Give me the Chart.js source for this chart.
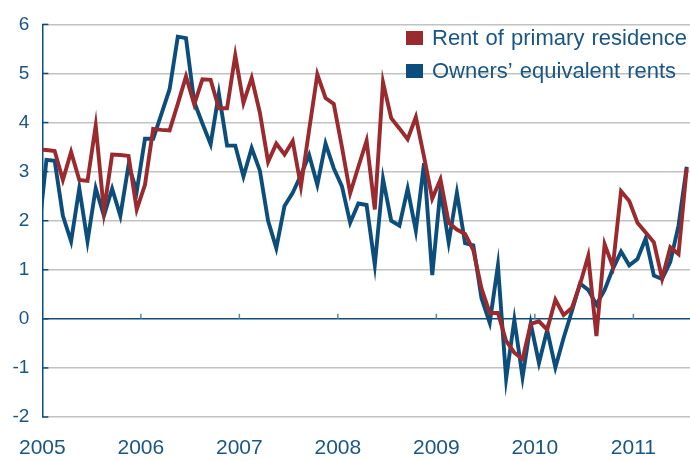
<!DOCTYPE html>
<html lang="en">
<head>
<meta charset="UTF-8">
<title>Rent inflation</title>
<style>
  html, body { margin: 0; padding: 0; background: #fff; }
  .chart-box { width: 690px; height: 461px; }
</style>
</head>
<body>
<div class="chart-box"><canvas id="rentChart"></canvas></div>

<script src="https://cdn.jsdelivr.net/npm/chart.js"></script>
<script>
  // monthly values, Dec 2004 .. Jul 2011 (the Dec 2004 point sits left of the axis and gets clipped)
  const firstMonth = 2004 + 11 / 12;
  const seriesNames = ['Rent of primary residence', 'Owners\u2019 equivalent rents'];

  const rentPrimary = [
    3.45,
    3.44, 3.42, 2.83, 3.40, 2.83, 2.81, 3.94, 2.20, 3.35, 3.34, 3.32, 2.23,
    2.73, 3.87, 3.85, 3.84, 4.38, 4.94, 4.37, 4.88, 4.87, 4.29, 4.29, 5.37,
    4.40, 4.91, 4.20, 3.20, 3.57, 3.35, 3.62, 2.70, 3.85, 4.98, 4.50, 4.38,
    3.50, 2.56, 3.10, 3.63, 2.23, 4.82, 4.09, 3.88, 3.66, 4.11, 3.30, 2.45,
    2.84, 1.96, 1.82, 1.73, 1.40, 0.62, 0.12, 0.12, -0.45, -0.69, -0.82, -0.10,
    -0.05, -0.22, 0.39, 0.08, 0.22, 0.70, 1.28, -0.35, 1.52, 1.07, 2.60, 2.40,
    1.96, 1.76, 1.56, 0.82, 1.46, 1.32, 3.07
  ];

  const ownersEquiv = [
    1.68,
    3.24, 3.22, 2.10, 1.58, 2.66, 1.58, 2.66, 2.10, 2.65, 2.10, 3.13, 2.60,
    3.67, 3.67, 4.17, 4.68, 5.75, 5.72, 4.42, 3.98, 3.56, 4.59, 3.53, 3.53,
    2.90, 3.48, 3.02, 2.00, 1.44, 2.30, 2.57, 2.93, 3.34, 2.73, 3.57, 3.07,
    2.70, 1.96, 2.35, 2.32, 1.10, 2.85, 2.00, 1.90, 2.65, 1.80, 3.17, 0.89,
    2.63, 1.56, 2.57, 1.54, 1.50, 0.42, -0.08, 1.09, -1.22, -0.02, -1.19, -0.10,
    -0.90, -0.23, -0.99, -0.39, 0.15, 0.72, 0.59, 0.29, 0.59, 1.02, 1.37, 1.09,
    1.22, 1.64, 0.88, 0.81, 1.16, 1.90, 3.10
  ];

  const yearTicks = [2005, 2006, 2007, 2008, 2009, 2010, 2011];
  const yMin = -2, yMax = 6;

  const red = '#9b2a2e';
  const blue = '#0c4e7b';
  const textBlue = '#1a5684';

  // month i is plotted in the middle of its month
  const toPoints = vals => vals.map((v, i) => ({ x: firstMonth + (i + 0.5) / 12, y: v }));

  // legend box in the top right corner + inner tick marks
  const extras = {
    id: 'extras',
    afterDatasetsDraw(chart) {
      const ctx = chart.ctx;
      const xs = chart.scales.x, ys = chart.scales.y;
      const area = chart.chartArea;
      ctx.save();

      // little year marks sitting on the zero line
      const y0 = ys.getPixelForValue(0);
      ctx.strokeStyle = '#5a86a8';
      ctx.lineWidth = 1.5;
      yearTicks.forEach(yr => {
        const px = xs.getPixelForValue(yr);
        if (px <= area.left + 1) return;
        ctx.beginPath();
        ctx.moveTo(px, y0);
        ctx.lineTo(px, y0 - 5);
        ctx.stroke();
      });

      // short inward ticks on the value axis
      ctx.strokeStyle = blue;
      for (let v = yMin; v <= yMax; v++) {
        const py = ys.getPixelForValue(v);
        ctx.beginPath();
        ctx.moveTo(area.left, py);
        ctx.lineTo(area.left + 6, py);
        ctx.stroke();
      }

      ctx.font = '22px "Liberation Sans", Arial, sans-serif';
      ctx.textBaseline = 'alphabetic';
      if ('wordSpacing' in ctx) ctx.wordSpacing = '1px';
      chart.data.datasets.forEach((ds, i) => {
        const top = 31 + i * 33;
        ctx.fillStyle = ds.borderColor;
        ctx.fillRect(406, top, 17, 14);
        ctx.fillStyle = textBlue;
        ctx.fillText(ds.label, 432, top + 14);
      });
      ctx.restore();
    }
  };

  new Chart(document.getElementById('rentChart'), {
    type: 'line',
    data: {
      datasets: [
        {
          label: seriesNames[0],
          data: toPoints(rentPrimary),
          borderColor: red,
          backgroundColor: red,
          borderWidth: 3.9,
          pointRadius: 0,
          tension: 0
        },
        {
          label: seriesNames[1],
          data: toPoints(ownersEquiv),
          borderColor: blue,
          backgroundColor: blue,
          borderWidth: 3.9,
          pointRadius: 0,
          tension: 0
        }
      ]
    },
    options: {
      responsive: true,
      maintainAspectRatio: false,
      animation: false,
      layout: { padding: { top: 18, right: 0, left: 0, bottom: 0 } },
      plugins: {
        legend: { display: false },
        tooltip: { enabled: false }
      },
      scales: {
        x: {
          type: 'linear',
          min: 2005,
          max: 2011.575,
          grid: { display: false, drawTicks: false },
          border: { display: false },
          ticks: {
            stepSize: 1,
            includeBounds: false,
            padding: 19,
            color: textBlue,
            font: { family: '"Liberation Sans", Arial, sans-serif', size: 21 },
            callback: v => String(v)
          },
          afterFit: s => { s.height = 44; }
        },
        y: {
          min: yMin,
          max: yMax,
          grid: {
            drawTicks: false,
            lineWidth: 1.5,
            color: c => c.tick && c.tick.value === 0 ? blue : '#c2c2c2'
          },
          border: { display: true, color: blue, width: 1.5 },
          ticks: {
            stepSize: 1,
            padding: 13,
            color: textBlue,
            font: { family: '"Liberation Sans", Arial, sans-serif', size: 19 }
          },
          afterFit: s => { s.width = 42; }
        }
      }
    },
    plugins: [extras]
  });
</script>
</body>
</html>
